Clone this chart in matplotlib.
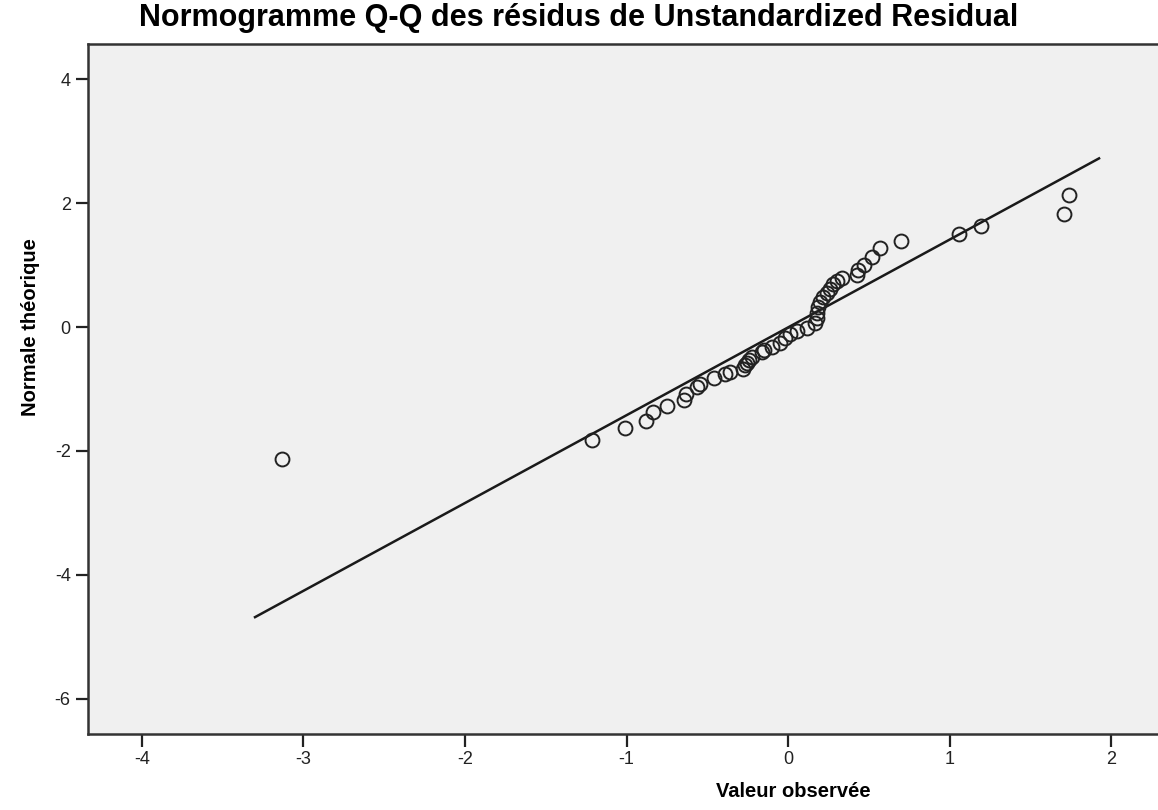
import numpy as np
import matplotlib
matplotlib.use("Agg")
import matplotlib.pyplot as plt

obs = [-3.133, -1.216, -1.009, -0.879, -0.838, -0.747, -0.644, -0.632, -0.565, -0.545,
       -0.458, -0.390, -0.359, -0.279, -0.266, -0.252, -0.240, -0.225, -0.161, -0.149,
       -0.101, -0.050, -0.019, 0.012, 0.054, 0.116, 0.167, 0.180, 0.180, 0.188,
       0.198, 0.215, 0.240, 0.260, 0.281, 0.302, 0.334, 0.425, 0.435, 0.471,
       0.518, 0.570, 0.700, 1.055, 1.193, 1.705, 1.742]
theo = [-2.13, -1.82, -1.63, -1.51, -1.37, -1.27, -1.18, -1.08, -0.96, -0.92,
        -0.83, -0.76, -0.72, -0.67, -0.61, -0.58, -0.53, -0.49, -0.41, -0.37,
        -0.32, -0.26, -0.18, -0.11, -0.06, -0.01, 0.06, 0.14, 0.22, 0.33,
        0.41, 0.49, 0.55, 0.62, 0.69, 0.75, 0.79, 0.84, 0.92, 1.00,
        1.13, 1.27, 1.38, 1.50, 1.63, 1.83, 2.13]

# reference line end points
line_x = [-3.30, 1.925]
line_y = [-4.68, 2.72]

xticks = [-4, -3, -2, -1, 0, 1, 2]
yticks = [-6, -4, -2, 0, 2, 4]

plt.rcParams['font.family'] = ['Liberation Sans', 'DejaVu Sans']
plt.rcParams['axes.unicode_minus'] = False

fig = plt.figure(figsize=(11.58, 8.10), dpi=100)
ax = fig.add_axes([88/1158, 1 - 734/810, 1 - 88/1158, (734 - 44)/810])
ax.set_facecolor('#f0f0f0')

ax.plot(line_x, line_y, color='#1a1a1a', lw=1.8, zorder=2)
ax.plot(obs, theo, 'o', mfc='none', mec='#222222', mew=1.4, ms=10, zorder=3)

ax.set_xlim(-4.334, 2.29)
ax.set_ylim(-6.565, 4.565)
ax.set_xticks(xticks)
ax.set_yticks(yticks)
ax.tick_params(direction='out', length=9, width=1.6, labelsize=13, colors='#222222')

for s in ['left', 'bottom', 'top']:
    ax.spines[s].set_linewidth(1.8)
    ax.spines[s].set_color('#333333')
ax.spines['right'].set_visible(False)

ax.set_xlabel('Valeur observée', fontsize=14.5, fontweight='bold')
ax.xaxis.set_label_coords((793 - 88) / (1158 - 88), -(782 - 734) / (734 - 44))
ax.set_ylabel('Normale théorique', fontsize=14.5, fontweight='bold')
ax.yaxis.set_label_coords(-(88 - 40) / (1158 - 88), (734 - 327) / (734 - 44))

fig.text(0.5, 1 - 18/810, 'Normogramme Q-Q des résidus de Unstandardized Residual',
         ha='center', va='center', fontsize=22, fontweight='bold')

fig.savefig('out.png', dpi=100)
